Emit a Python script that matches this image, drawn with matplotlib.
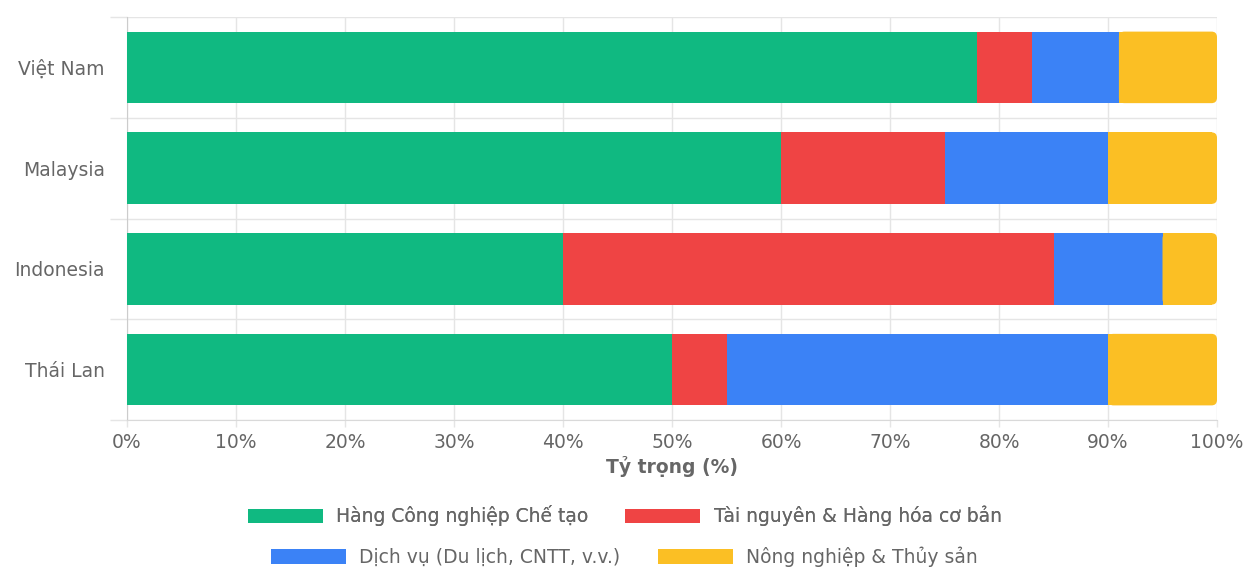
import matplotlib
matplotlib.use("Agg")
import matplotlib.pyplot as plt
from matplotlib.patches import Rectangle, FancyBboxPatch
import numpy as np

plt.rcParams['font.family'] = ['DejaVu Sans']

categories = ["Việt Nam", "Malaysia", "Indonesia", "Thái Lan"]
series_names = ["Hàng Công nghiệp Chế tạo", "Tài nguyên & Hàng hóa cơ bản",
                "Dịch vụ (Du lịch, CNTT, v.v.)", "Nông nghiệp & Thủy sản"]
manufacturing = [78, 60, 40, 50]
resources = [5, 15, 45, 5]
services = [8, 15, 10, 35]
agriculture = [9, 10, 5, 10]
colors = ["#10b981", "#ef4444", "#3b82f6", "#fbbf24"]
x_ticks = [0, 10, 20, 30, 40, 50, 60, 70, 80, 90, 100]
x_label = "Tỷ trọng (%)"

TXT = "#666666"
GRID = "#e5e5e5"
FS = 13.5

fig = plt.figure(figsize=(12.49, 5.67), dpi=100)
ax = fig.add_axes([127/1249, 1-420/567, (1217-127)/1249, (420-17)/567])

ypos = np.arange(len(categories))
bar_h = 0.71
series = [manufacturing, resources, services, agriculture]
left = np.zeros(len(categories))
for i, (vals, col) in enumerate(zip(series, colors)):
    vals = np.array(vals, dtype=float)
    if i < len(series) - 1:
        ax.barh(ypos, vals, left=left, height=bar_h, color=col, linewidth=0, zorder=3)
    else:
        r = 0.5
        ax.barh(ypos, vals - r, left=left, height=bar_h, color=col, linewidth=0, zorder=3)
        aspect = (10.9 / 100.0)
        for y, l, v in zip(ypos, left, vals):
            p = FancyBboxPatch((l, y - bar_h/2), v, bar_h,
                               boxstyle=f"round,pad=0,rounding_size={r}",
                               mutation_aspect=aspect, facecolor=col,
                               edgecolor='none', linewidth=0, zorder=3)
            ax.add_patch(p)
    left += vals

ax.set_xlim(0, 100)
ax.set_ylim(len(categories) - 0.5, -0.5)

ax.set_xticks(x_ticks)
ax.set_xticklabels([f"{t}%" for t in x_ticks])
ax.set_yticks(ypos)
ax.set_yticklabels(categories)
ax.set_yticks(np.arange(-0.5, len(categories), 1.0), minor=True)

ax.tick_params(axis='x', length=5, width=1, color=GRID, labelcolor=TXT, labelsize=FS, pad=4)
ax.tick_params(axis='y', which='major', length=0, labelcolor=TXT, labelsize=FS, pad=16)
ax.tick_params(axis='y', which='minor', length=12, width=1, color=GRID)

ax.grid(axis='x', color=GRID, linewidth=1, zorder=0)
ax.grid(axis='y', which='minor', color=GRID, linewidth=1, zorder=0)
ax.grid(axis='y', which='major', visible=False)

for s in ['top', 'right']:
    ax.spines[s].set_visible(False)
ax.spines['left'].set_color('#cccccc')
ax.spines['bottom'].set_color('#d9d9d9')

ax.set_xlabel(x_label, fontsize=FS, fontweight='bold', color=TXT, labelpad=3)

handles = [Rectangle((0, 0), 1, 1, facecolor=c, edgecolor='none') for c in colors]
common = dict(loc='center', ncol=2, frameon=False, fontsize=FS,
              handlelength=4.0, handleheight=0.85, handletextpad=0.7,
              columnspacing=2.0, labelcolor=TXT, borderpad=0, borderaxespad=0)
l1 = fig.legend(handles[:2], series_names[:2], bbox_to_anchor=(0.5, 1-516/567), **common)
fig.add_artist(l1)
l2 = fig.legend(handles[2:], series_names[2:], bbox_to_anchor=(0.5, 1-557/567), **common)

fig.savefig("out.png", dpi=100)
